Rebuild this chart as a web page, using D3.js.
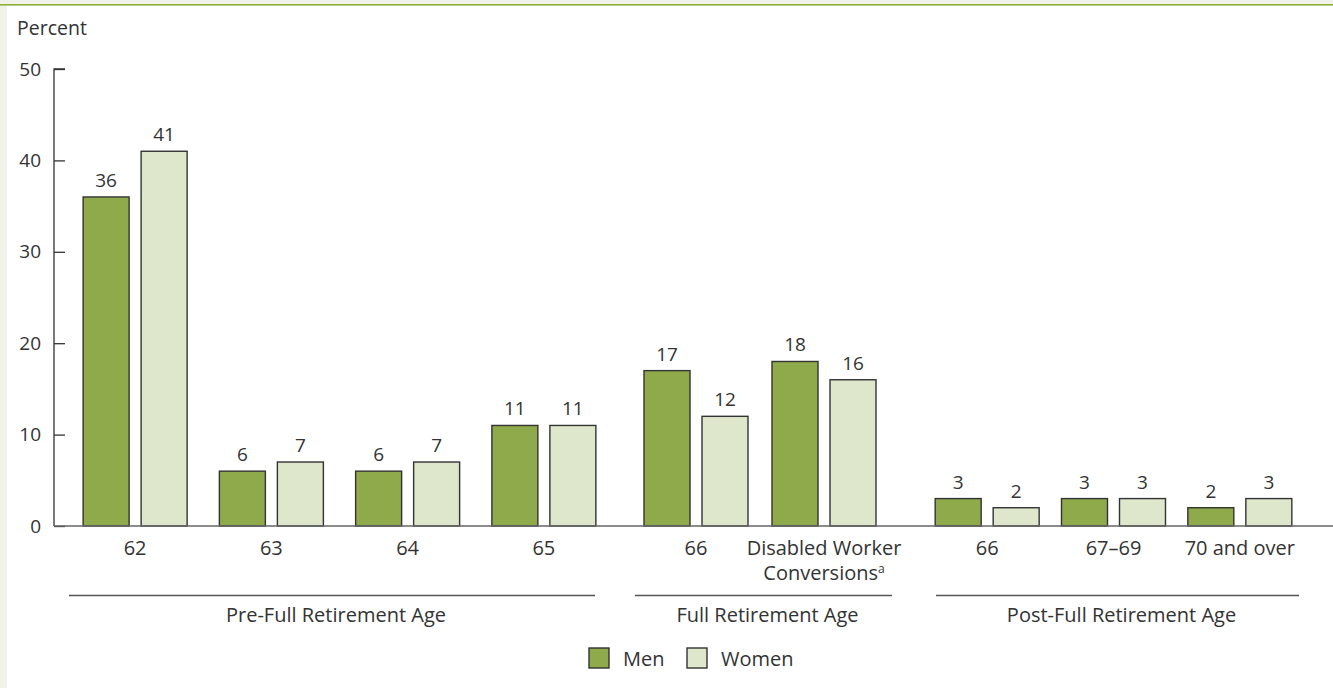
<!DOCTYPE html>
<html>
<head>
<meta charset="utf-8">
<script src="https://cdn.jsdelivr.net/npm/d3@7"></script>
<style>
  body { margin: 0; background: #fff; }
  svg text { font-family: "Open Sans", sans-serif; fill: #333; }
</style>
</head>
<body>
<svg id="chart" width="1333" height="688"></svg>
<script>
// data
var groupNames = ["Pre-Full Retirement Age", "Full Retirement Age", "Post-Full Retirement Age"];
var groupOf = [0, 0, 0, 0, 1, 1, 2, 2, 2];
var categoryLabels = [["62"], ["63"], ["64"], ["65"], ["66"], ["Disabled Worker", "Conversions"], ["66"], ["67–69"], ["70 and over"]];
var menValues = [36, 6, 6, 11, 17, 18, 3, 3, 2];
var womenValues = [41, 7, 7, 11, 12, 16, 2, 3, 3];
var seriesNames = ["Men", "Women"];
var yTicks = [0, 10, 20, 30, 40, 50];

// layout
var groupBand = [[67, 612], [632, 888], [924, 1303]];
var groupRule = [[69, 595], [635, 892], [936, 1299]];
var colors = { Men: "#8eaa4b", Women: "#dee6cb" };
var fontSize = 20;   // words
var numSize = 19;    // numbers

var svg = d3.select("#chart");

// page frame
svg.append("rect").attr("x", 0).attr("y", 0).attr("width", 1333).attr("height", 688).attr("fill", "#f1f3e9");
svg.append("rect").attr("x", 7).attr("y", 6).attr("width", 1326).attr("height", 682).attr("fill", "#fff");
svg.append("rect").attr("x", 0).attr("y", 4).attr("width", 1333).attr("height", 1.6).attr("fill", "#8db33a");

var y = d3.scaleLinear().domain([0, 50]).range([526, 69]);

// one band scale per group
var xScales = groupNames.map(function(g, gi) {
    var idx = d3.range(groupOf.length).filter(function(i) { return groupOf[i] == gi; });
    return d3.scaleBand().domain(idx).range(groupBand[gi]);
});
function centerOf(i) {
    var s = xScales[groupOf[i]];
    return s(i) + s.bandwidth() / 2;
}
var xInner = d3.scaleBand().domain(seriesNames).range([-52, 52]).paddingInner(0.207);

// y axis
var yAxis = d3.axisRight(y).tickValues(yTicks).tickSize(11).tickFormat(d3.format("d"));
var yg = svg.append("g").attr("transform", "translate(54,0)").call(yAxis);
yg.select(".domain").attr("stroke", "#333").attr("stroke-width", 1.3).attr("d", "M11,69H0V526");
yg.selectAll(".tick line").attr("stroke", "#333").attr("stroke-width", 1.3);
yg.selectAll(".tick text").attr("x", -13).attr("text-anchor", "end")
    .style("font-size", numSize + "px").style("font-family", "Open Sans").attr("fill", "#333");

svg.append("text").attr("x", 17).attr("y", 35).style("font-size", (fontSize - 0.5) + "px").text("Percent");

// bars
var rows = [];
menValues.forEach(function(v, i) {
    rows.push({ i: i, s: "Men", v: v });
    rows.push({ i: i, s: "Women", v: womenValues[i] });
});

svg.append("g").selectAll("rect").data(rows).enter().append("rect")
    .attr("x", function(d) { return centerOf(d.i) + xInner(d.s); })
    .attr("y", function(d) { return y(d.v); })
    .attr("width", xInner.bandwidth())
    .attr("height", function(d) { return y(0) - y(d.v); })
    .attr("fill", function(d) { return colors[d.s]; })
    .attr("stroke", "#333")
    .attr("stroke-width", 1.4);

svg.append("g").selectAll("text").data(rows).enter().append("text")
    .attr("x", function(d) { return centerOf(d.i) + xInner(d.s) + xInner.bandwidth() / 2; })
    .attr("y", function(d) { return y(d.v) - 10; })
    .attr("text-anchor", "middle")
    .style("font-size", numSize + "px")
    .text(function(d) { return d.v; });

// baseline
svg.append("line").attr("x1", 54).attr("x2", 1333).attr("y1", y(0)).attr("y2", y(0))
    .attr("stroke", "#666").attr("stroke-width", 1.6);

// category labels
var cat = svg.append("g").selectAll("text").data(categoryLabels).enter().append("text")
    .attr("text-anchor", "middle")
    .style("font-size", fontSize + "px")
    .attr("transform", function(d, i) { return "translate(" + centerOf(i) + ",555)"; });
cat.each(function(lines, i) {
    var t = d3.select(this);
    lines.forEach(function(l, k) {
        var ts = t.append("tspan").attr("x", 0).attr("y", k * 25).text(l);
        if (k == 1) {
            ts.append("tspan").attr("dy", -7).style("font-size", "12px").text("a");
        }
    });
});

// group rules and labels
groupNames.forEach(function(g, gi) {
    svg.append("line").attr("x1", groupRule[gi][0]).attr("x2", groupRule[gi][1])
        .attr("y1", 595.5).attr("y2", 595.5).attr("stroke", "#555").attr("stroke-width", 1.3);
    svg.append("text").attr("x", (groupRule[gi][0] + groupRule[gi][1]) / 2 + 4).attr("y", 622)
        .attr("text-anchor", "middle").style("font-size", fontSize + "px").text(g);
});

// legend
var legendX = [589, 687];
var lg = svg.append("g").selectAll("g").data(seriesNames).enter().append("g")
    .attr("transform", function(d, i) { return "translate(" + legendX[i] + ",648)"; });
lg.append("rect").attr("width", 20).attr("height", 20)
    .attr("fill", function(d) { return colors[d]; }).attr("stroke", "#333").attr("stroke-width", 1.4);
lg.append("text").attr("x", 34).attr("y", 18).style("font-size", fontSize + "px").text(function(d) { return d; });
</script>
</body>
</html>
